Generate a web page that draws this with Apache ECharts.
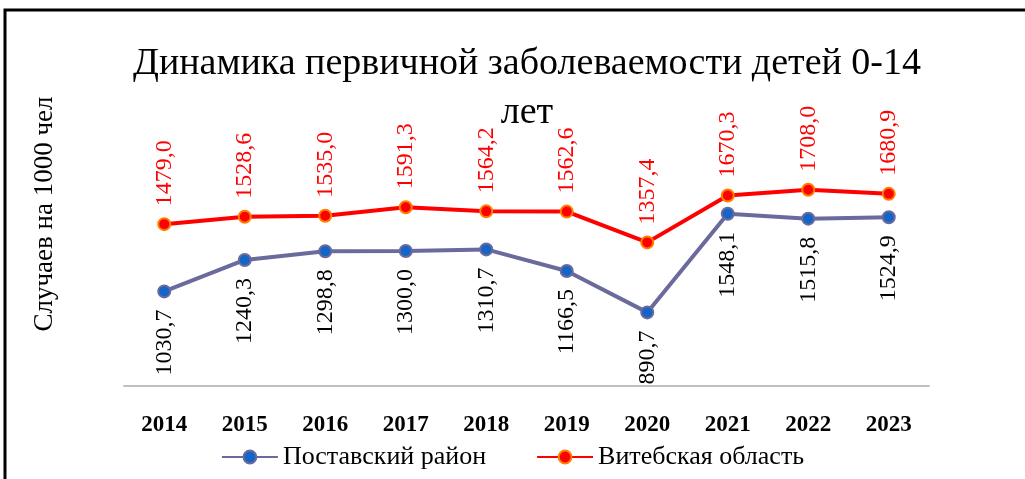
<!DOCTYPE html>
<html>
<head>
<meta charset="utf-8">
<script src="https://cdn.jsdelivr.net/npm/echarts@6/dist/echarts.min.js"></script>
<style>
  html, body { margin: 0; padding: 0; background: #fff; }
  #chart { width: 1025px; height: 479px; }
</style>
</head>
<body>
<div id="chart"></div>
<script>
var years = ['2014', '2015', '2016', '2017', '2018', '2019', '2020', '2021', '2022', '2023'];
var postavy = [1030.7, 1240.3, 1298.8, 1300.0, 1310.7, 1166.5, 890.7, 1548.1, 1515.8, 1524.9];
var vitebsk = [1479.0, 1528.6, 1535.0, 1591.3, 1564.2, 1562.6, 1357.4, 1670.3, 1708.0, 1680.9];
var seriesNames = ['Поставский район', 'Витебская область'];

var serif = '"Liberation Serif", "Times New Roman", serif';

function fmt(p) {
  return p.value.toFixed(1).replace('.', ',');
}

var myChart = echarts.init(document.getElementById('chart'));

var option = {
  backgroundColor: '#fff',
  animation: false,
  title: {
    text: 'Динамика первичной заболеваемости детей 0-14\nлет',
    left: 522,
    textAlign: 'center',
    top: 35,
    textStyle: {
      fontFamily: serif,
      fontWeight: 'normal',
      fontSize: 38,
      lineHeight: 49,
      color: '#000'
    }
  },
  graphic: [
    {
      type: 'rect',
      shape: { x: 5, y: 10, width: 1030, height: 490 },
      style: { fill: 'none', stroke: '#000', lineWidth: 3 }
    },
    {
      type: 'text',
      x: 45,
      y: 214,
      rotation: Math.PI / 2,
      style: {
        text: 'Случаев на 1000 чел',
        fontFamily: serif,
        fontSize: 27,
        fill: '#000',
        align: 'center',
        verticalAlign: 'middle'
      }
    }
  ],
  legend: {
    bottom: 4,
    left: 'center',
    itemGap: 50,
    itemWidth: 56,
    itemHeight: 16,
    data: seriesNames,
    textStyle: { fontFamily: serif, fontSize: 26, color: '#000' }
  },
  grid: { left: 124, right: 96, top: 146, height: 240 },
  xAxis: {
    type: 'category',
    data: years,
    boundaryGap: true,
    axisLine: { lineStyle: { color: '#bfbfbf', width: 2 } },
    axisTick: { show: false },
    axisLabel: {
      margin: 28,
      fontFamily: serif,
      fontWeight: 'bold',
      fontSize: 23,
      color: '#000'
    }
  },
  yAxis: {
    type: 'value',
    min: 400,
    max: 2000,
    show: false
  },
  series: [
    {
      name: seriesNames[0],
      type: 'line',
      data: postavy,
      symbol: 'circle',
      symbolSize: 12,
      lineStyle: { color: '#6a6a9c', width: 4 },
      itemStyle: { color: '#1565c8', borderColor: '#6a6a9c', borderWidth: 2 },
      label: {
        show: true,
        position: 'bottom',
        distance: 11,
        rotate: 90,
        align: 'right',
        verticalAlign: 'middle',
        formatter: fmt,
        fontFamily: serif,
        fontSize: 24,
        color: '#000'
      }
    },
    {
      name: seriesNames[1],
      type: 'line',
      data: vitebsk,
      symbol: 'circle',
      symbolSize: 12,
      lineStyle: { color: '#ff0000', width: 4 },
      itemStyle: { color: '#ff0000', borderColor: '#ff8000', borderWidth: 2 },
      label: {
        show: true,
        position: 'top',
        distance: 11,
        rotate: 90,
        align: 'left',
        verticalAlign: 'middle',
        formatter: fmt,
        fontFamily: serif,
        fontSize: 24,
        color: '#ff0000'
      }
    }
  ]
};

myChart.setOption(option);
window.addEventListener('resize', function () {
  myChart.resize();
});
</script>
</body>
</html>
